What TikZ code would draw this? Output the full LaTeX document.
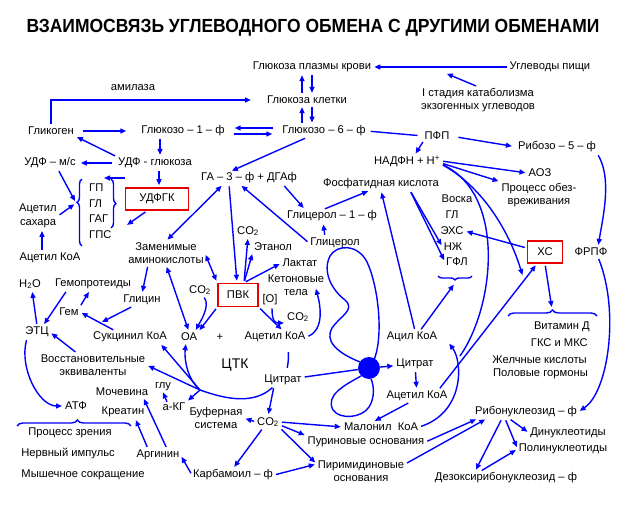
\documentclass[tikz,border=0pt]{standalone}
\usepackage{fontspec}
\setmainfont{Liberation Sans}
\usetikzlibrary{arrows.meta,calc,decorations.pathreplacing}
\definecolor{bl}{RGB}{0,0,255}
\definecolor{rd}{RGB}{230,0,0}
\begin{document}
\begin{tikzpicture}[x=1pt,y=-1pt,
 every node/.style={font=\fontsize{11.2}{13.5}\selectfont, inner sep=1pt, align=center},
 arr/.style={draw=bl, line width=1.4pt, -{Triangle[length=6pt,width=5pt]}, shorten >=2pt, shorten <=2pt},
 dbl/.style={arr, {Triangle[length=6pt,width=5pt]}-{Triangle[length=6pt,width=5pt]}},
 ln/.style={draw=bl, line width=1.4pt, shorten >=2pt, shorten <=2pt},
 mem/.style={draw=bl, line width=1.4pt},
 br/.style={draw=bl, line width=1.4pt, decorate, decoration={brace, amplitude=5pt}},
 box/.style={draw=rd, line width=1.6pt, inner sep=0pt, minimum height=22pt}]
\useasboundingbox (0,0) rectangle (625,506);
% nodes
\node (title) at (313,28) {\scalebox{0.92}[1]{\fontsize{19}{21}\selectfont\bfseries ВЗАИМОСВЯЗЬ УГЛЕВОДНОГО ОБМЕНА С ДРУГИМИ ОБМЕНАМИ}};
\node (gpk) at (312,67) {Глюкоза плазмы крови};
\node (up) at (550,67) {Углеводы пищи};
\node (stage) at (478,100) {I стадия катаболизма\\экзогенных углеводов};
\node (gk) at (307,100) {Глюкоза клетки};
\node (amil) at (133,88) {амилаза};
\node (glg) at (51,131) {Гликоген};
\node (g1p) at (183,131) {Глюкозо – 1 – ф};
\node (g6p) at (324,131) {Глюкозо – 6 – ф};
\node (pfp) at (437,136) {ПФП};
\node (r5p) at (557,147) {Рибозо – 5 – ф};
\node (nadph) at (407,161) {НАДФН + Н\textsuperscript{+}};
\node (udfms) at (50,163) {УДФ – м/с};
\node (udfgl) at (155,163) {УДФ - глюкоза};
\node (aoz) at (540,173) {АОЗ};
\node (proc) at (539,195) {Процесс обез-\\вреживания};
\node (ga3p) at (249,178) {ГА – 3 – ф + ДГАф};
\node[box, minimum width=63pt] (udfgk) at (157,199) {УДФГК};
\node (fk) at (381,184) {Фосфатидная кислота};
\node[anchor=west] (gpn) at (88,188) {ГП};
\node[anchor=west] (gln) at (88,204) {ГЛ};
\node[anchor=west] (gag) at (88,219) {ГАГ};
\node[anchor=west] (gps) at (88,235) {ГПС};
\node (voska) at (457,199) {Воска};
\node (gll) at (452,215) {ГЛ};
\node (exs) at (452,231) {ЭХС};
\node (nj) at (453,247) {НЖ};
\node (gfl) at (457,262) {ГФЛ};
\node (acsah) at (38,216) {Ацетил\\сахара};
\node (gl1p) at (332,216) {Глицерол – 1 – ф};
\node (co2a) at (248,231) {CO\textsubscript{2}};
\node (glyc) at (335,243) {Глицерол};
\node (amino) at (166,253) {Заменимые\\аминокислоты};
\node (etanol) at (273,247) {Этанол};
\node[box, minimum width=35pt] (xs) at (545,252) {ХС};
\node (frpf) at (591,252) {ФРПФ};
\node (acoal) at (50,258) {Ацетил КоА};
\node (laktat) at (300,263) {Лактат};
\node (keton) at (296,285) {Кетоновые\\тела};
\node (h2o) at (30,284) {H\textsubscript{2}O};
\node (gemopr) at (93,284) {Гемопротеиды};
\node[box, minimum width=40pt, minimum height=23pt] (pvk) at (238,295) {ПВК};
\node (co2b) at (200,290) {CO\textsubscript{2}};
\node (oxy) at (270,300) {[O]};
\node (glicin) at (142,300) {Глицин};
\node (gem) at (69,312) {Гем};
\node (co2c) at (298,317) {CO\textsubscript{2}};
\node (etc) at (37,332) {ЭТЦ};
\node (sukc) at (130,337) {Сукцинил КоА};
\node (oa) at (189,337) {ОА};
\node (plus) at (220,337) {+};
\node (acoac) at (275,337) {Ацетил КоА};
\node (acil) at (412,337) {Ацил КоА};
\node[anchor=east] (vit) at (591,327) {Витамин Д};
\node[anchor=east] (gks) at (589,343) {ГКС и МКС};
\node[anchor=east] (gelch) at (588,360) {Желчные кислоты};
\node[anchor=east] (polg) at (589,374) {Половые гормоны};
\node (vos) at (93,365) {Восстановительные\\эквиваленты};
\node[font=\fontsize{14}{16}\selectfont] (tsk) at (235,365) {ЦТК};
\node (citrr) at (415,364) {Цитрат};
\node[circle, fill=bl, minimum size=22pt, inner sep=0pt] (blob) at (369,368) {};
\node (citr) at (283,380) {Цитрат};
\node (glu) at (163,387) {глу};
\node (moch) at (122,392) {Мочевина};
\node (acoar) at (417,396) {Ацетил КоА};
\node (atf) at (76,406) {АТФ};
\node (akg) at (174,407) {a-КГ};
\node (kreatin) at (123,412) {Креатин};
\node (bufer) at (216,418) {Буферная\\система};
\node (co2d) at (268,422) {CO\textsubscript{2}};
\node (ribon) at (526,412) {Рибонуклеозид – ф};
\node (malon) at (381,427) {Малонил\ \ КоА};
\node (vision) at (70,433) {Процесс зрения};
\node (dinuc) at (568,433) {Динуклеотиды};
\node (purin) at (366,442) {Пуриновые основания};
\node (polinuc) at (563,449) {Полинуклеотиды};
\node (nerv) at (68,454) {Нервный импульс};
\node (arginin) at (158,455) {Аргинин};
\node (pyrim) at (361,471) {Пиримидиновые\\основания};
\node (karb) at (233,475) {Карбамоил – ф};
\node (mysh) at (83,475) {Мышечное сокращение};
\node (dezoxy) at (506,478) {Дезоксирибонуклеозид – ф};
% free ends
\coordinate (stagetip) at (445,73);
\coordinate (xsn) at (523,277);
\coordinate (B) at (200,390);
\coordinate (gmerge) at (102,322);
\coordinate (lb) at (76,203);
\coordinate (rb) at (127,225);
\coordinate (rbt) at (125,178);
\coordinate (rbl) at (102,178);
\coordinate (lipid) at (455,283);
\coordinate (vb) at (552,309);
\coordinate (acilr) at (448,342);
\coordinate (jn) at (460,356);
% braces
\draw[br, decoration={brace, amplitude=5pt, aspect=0.65}] (82,246) -- (82,179);
\draw[br] (111,179) -- (111,228);
\draw[br, decoration={brace, amplitude=4pt}] (472,276) -- (438,276);
\draw[br, decoration={brace, amplitude=6pt}] (508,316) -- (597,316);
\draw[br, decoration={brace, amplitude=6pt, aspect=0.53}] (17,426) -- (131,426);
% connectors top
\draw[arr] (up) -- (gpk);
\draw[arr] (stage.north) -- (stagetip);
\draw[arr] ([xshift=-5pt]gk.north) -- ([xshift=-5pt]gk.north |- gpk.south);
\draw[arr] ([xshift=5pt]gk.north |- gpk.south) -- ([xshift=5pt]gk.north);
\draw[arr] ([xshift=-5pt]gk.south |- g6p.north) -- ([xshift=-5pt]gk.south);
\draw[arr] ([xshift=5pt]gk.south) -- ([xshift=5pt]gk.south |- g6p.north);
\draw[arr, shorten >=15pt] (glg.north) |- (gk.west);
\draw[arr, shorten <=8pt, shorten >=14pt] (glg) -- (g1p);
\draw[arr, shorten <=8pt, shorten >=9pt] ([yshift=3pt]g6p.west) -- ([yshift=3pt]g1p.east);
\draw[arr, shorten <=8pt, shorten >=9pt] ([yshift=-3pt]g1p.east) -- ([yshift=-3pt]g6p.west);
\draw[arr] ([xshift=5pt]udfgl.north |- g1p.south) -- ([xshift=5pt]udfgl.north);
\draw[arr, shorten <=5pt, shorten >=4pt] (udfgl) -- (udfms);
\draw[arr] (udfgl.north west) -- (glg.south east);
\draw[arr] ([xshift=-17pt]g6p.south) -- ([xshift=-19pt]ga3p.north);
\draw[ln, shorten <=4pt, shorten >=6pt] (g6p.east) -- (pfp.west);
\draw[arr, shorten <=8pt, shorten >=5pt] (pfp.east) -- (r5p.west);
\draw[arr, shorten <=1pt, shorten >=1pt] (pfp.south west) -- ([xshift=8pt]nadph.north);
\draw[arr] (nadph.east) -- (aoz.west);
\draw[arr] ([yshift=-2pt]nadph.east) -- (proc.north west);
\draw[ln, shorten >=0pt] ([yshift=-3pt]nadph.east) .. controls +(65,30) and +(35,-50) .. (jn);
\draw[arr] ([yshift=-3pt]nadph.east) .. controls +(45,25) and +(-12,-40) .. (xsn);
\draw[arr] (r5p.south east) .. controls +(15,25) and +(5,-30) .. ([xshift=7pt]frpf.north);
\draw[arr] ([xshift=7pt]frpf.south) .. controls +(22,55) and +(30,-20) .. (ribon.east);
% lipids, cholesterol
\draw[arr] ([yshift=4pt]xs.west) -- (exs.east);
\draw[arr] (xs.south) -- (vb);
\draw[arr] ([xshift=-10pt]acoar.north east) -- ([xshift=-8pt]xs.south);
\draw[arr] (citrr) -- (acoar);
\draw[arr, shorten <=0pt] (blob) -- (citrr);
\draw[ln, shorten >=0pt] (citr) -- (blob);
\draw[arr] ([xshift=-7pt]acoar.south) -- ([xshift=-8pt]malon.north);
\draw[arr] (malon.east) .. controls +(45,-15) and +(15,20) .. (acilr);
\draw[arr] ([xshift=3pt]acil.north) -- (fk.south);
\draw[arr] ([xshift=8pt]acil.north) -- (lipid);
\draw[arr] ([xshift=29pt]fk.south) -- (nj.west);
\draw[arr] ([xshift=29pt]fk.south) -- (gfl.west);
\draw[arr] ([xshift=-9pt]gl1p.north) -- ([xshift=-11pt]fk.south);
\draw[arr] ([xshift=-10pt]glyc.north) -- ([xshift=-9pt]gl1p.south);
\draw[arr] ([xshift=34pt]ga3p.south) -- ([xshift=-27pt]gl1p.north);
\draw[arr] (glyc.west) -- ([xshift=-9pt]ga3p.south);
% pyruvate area
\draw[dbl] ([xshift=-26pt]ga3p.south) -- (amino.north);
\draw[arr] ([xshift=-20pt]ga3p.south) -- ([xshift=-1pt]pvk.north);
\draw[dbl] (amino.east) -- (pvk.north west);
\draw[arr] ([xshift=-18pt]amino.south) -- (glicin.north);
\draw[dbl] (amino.south) -- (oa.north);
\draw[arr] ([xshift=6pt]pvk.north) -- (co2a.south);
\draw[arr] ([xshift=6pt]pvk.north) -- (etanol.south west);
\draw[arr] ([xshift=6pt]pvk.north) -- (laktat.west);
\draw[arr] (pvk.south west) -- (oa.north east);
\draw[arr] ([xshift=3pt]co2b.south) .. controls +(8,10) and +(4,-8) .. ([xshift=6pt]oa.north);
\draw[arr] (pvk.south east) -- ([xshift=8pt]acoac.north);
\draw[arr] ([xshift=2pt]oxy.south) .. controls +(0,16) and +(-10,0) .. (co2c.south west);
\draw[arr] (acoac.east) .. controls +(18,-8) and +(5,18) .. ([xshift=-10pt,yshift=10pt]keton.south east);
% TCA
\draw[ln, shorten <=9pt, shorten >=6pt] ([xshift=12pt]acoac.south) to[bend left=10] ([xshift=3pt]citr.north);
\draw[arr] ([xshift=-9pt]citr.south) .. controls +(-20,18) and +(28,10) .. (B) .. controls +(-12,-10) and +(-2,18) .. ([xshift=-3pt]oa.south);
\draw[arr, shorten <=0pt] (B) -- (akg.north east);
\draw[arr, shorten <=0pt] (B) -- ([xshift=30pt]sukc.south);
\draw[arr, shorten <=0pt] (B) -- (vos.east);
\draw[arr] ([xshift=-9pt]citr.south) -- (co2d.north);
\draw[arr] (co2d.west) -- (bufer.east);
\draw[arr] (co2d.east) -- (malon.west);
\draw[arr] ([yshift=-3pt]co2d.east) -- (purin.north west);
\draw[arr] (co2d.south east) -- ([yshift=7pt]pyrim.west);
\draw[arr] ([xshift=-5pt]co2d.south) -- (karb.north);
\draw[arr] (karb.east) -- ([yshift=7pt]pyrim.west);
\draw[arr] (karb.west) -- (arginin.east);
\draw[arr] ([xshift=-10pt]arginin.north) -- ([xshift=12pt]kreatin.south);
\draw[arr] ([xshift=9pt]arginin.north) -- ([xshift=21pt]moch.south);
\draw[arr, shorten <=0pt, shorten >=0pt] ([xshift=-7pt]akg.north) -- (glu.south);
% left side
\draw[arr] ([xshift=-10pt]etc.south) .. controls +(-8,30) and +(-25,0) .. (atf.west);
\draw[arr] (etc.north) -- ([xshift=2pt]h2o.south);
\draw[arr] ([xshift=-26pt]gemopr.south) -- ([xshift=6pt]etc.north);
\draw[arr] (gem.north east) -- ([xshift=-3pt]gemopr.south);
\draw[arr] ([xshift=-15pt]sukc.north) -- (gem.east);
\draw[arr, shorten >=0pt] ([xshift=-9pt]glicin.south) -- (gmerge);
\draw[arr] ([xshift=-16pt]vos.north) -- (etc.east);
\draw[arr] ([xshift=-8pt]acoal.north) -- ([xshift=4pt]acsah.south);
\draw[arr] (acsah.east) -- (lb);
\draw[arr] ([xshift=8pt]udfms.south) -- (lb);
\draw[arr, shorten >=0pt] ([xshift=-10pt]udfgk.south) -- (rb);
\draw[arr] ([xshift=4pt]udfgl.south) -- ([xshift=2pt]udfgk.north);
\draw[arr, shorten <=0pt] (rbt) -- (rbl);
% nucleotides
\draw[arr] (purin.east) -- ([xshift=-48pt]ribon.south);
\draw[arr] ([yshift=7pt]pyrim.east) -- ([xshift=-39pt]ribon.south);
\draw[arr] ([xshift=-24pt]ribon.south) -- ([xshift=-31pt]dezoxy.north);
\draw[arr] ([xshift=-21pt]ribon.south) -- (polinuc.west);
\draw[arr] ([xshift=-17pt]ribon.south) -- (dinuc.west);
\draw[arr] ([xshift=-26pt]dezoxy.north) -- (polinuc.west);
% membrane
\draw[mem] (360,362) .. controls (335,352) and (325,340) .. (332,328) .. controls (340,316) and (356,310) .. (345,300) .. controls (332,290) and (322,272) .. (330,256) .. controls (337,244) and (358,244) .. (367,262) .. controls (378,285) and (384,335) .. (374,360);
\draw[mem] (361,376) .. controls (345,385) and (325,395) .. (333,410) .. controls (340,420) and (362,418) .. (369,407) .. controls (375,398) and (374,385) .. (371,379);
\end{tikzpicture}
\end{document}
